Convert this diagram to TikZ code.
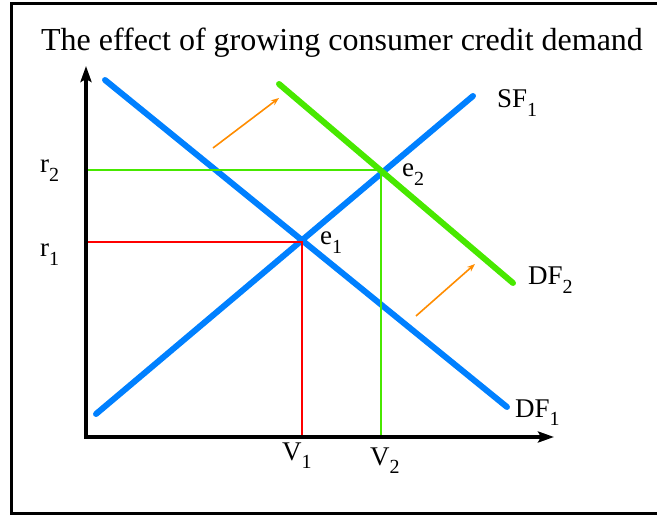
\documentclass[tikz,border=0pt]{standalone}
\usepackage{fontspec}
\setmainfont{Liberation Serif}
\usetikzlibrary{arrows.meta}
\definecolor{curveblue}{RGB}{0,128,255}
\definecolor{curvegreen}{RGB}{72,232,0}
\definecolor{shiftorange}{RGB}{255,140,0}
\newcommand{\lowsub}[1]{\raisebox{-0.33em}{\fontsize{20}{20}\selectfont #1}}

\begin{document}
\begin{tikzpicture}[
  x=1pt, y=-1pt,
  curve/.style={line width=6pt, line cap=round},
  axisline/.style={line width=4.5pt, {Stealth[length=16pt,width=11pt,inset=3pt]}-{Stealth[length=16pt,width=11pt,inset=3pt]}},
  guide/.style={line width=1.3pt},
  shiftarrow/.style={shiftorange, line width=1.6pt, -{Stealth[length=8pt,width=6pt]}},
  lbl/.style={font=\fontsize{27}{30}\selectfont, inner sep=0pt, anchor=base west},
]
\useasboundingbox (0,0) rectangle (657,516);
\draw[line width=3pt] (11,4) rectangle (680,513);

\node[font=\fontsize{32}{36}\selectfont, inner sep=0pt, anchor=base] (title) at (342,51)
  {The effect of growing consumer credit demand};

% axes
\coordinate (ytop)  at (86,66);
\coordinate (xend)  at (554,437);
\coordinate (r2tick) at (86,170);
\coordinate (r1tick) at (86,242);
\coordinate (v1tick) at (302,437);
\coordinate (v2tick) at (381,437);

% curves
\coordinate (df1a) at (105,80);
\coordinate (df1b) at (507,407);
\coordinate (sf1a) at (96,414);
\coordinate (sf1b) at (473,96);
\coordinate (df2a) at (279,84);
\coordinate (df2b) at (513,283);
\coordinate (e1) at (302,242);
\coordinate (e2) at (381,170);

\draw[curve, curveblue] (df1a) -- (df1b);
\draw[curve, curveblue] (sf1a) -- (sf1b);
\draw[curve, curvegreen] (df2a) -- (df2b);

\draw[guide, red] (r1tick) -- (e1) -- (v1tick);
\draw[guide, curvegreen] (r2tick) -- (e2) -- (v2tick);

\draw[axisline] (ytop) |- (xend);

% shift arrows
\coordinate (s1a) at (213,148);
\coordinate (s1b) at (279,98);
\coordinate (s2a) at (416,316);
\coordinate (s2b) at (475,264);
\draw[shiftarrow] (s1a) -- (s1b);
\draw[shiftarrow] (s2a) -- (s2b);

\node[lbl] (r2) at (40,173) {r\lowsub{2}};
\node[lbl] (r1) at (40,257) {r\lowsub{1}};
\node[lbl] (le1) at (320,245) {e\lowsub{1}};
\node[lbl] (le2) at (402,177) {e\lowsub{2}};
\node[lbl] (sf1) at (497,108) {SF\lowsub{1}};
\node[lbl] (df2) at (528,285) {DF\lowsub{2}};
\node[lbl] (df1) at (515,417) {DF\lowsub{1}};
\node[lbl] (v1) at (282,460) {V\lowsub{1}};
\node[lbl] (v2) at (370,465) {V\lowsub{2}};

\end{tikzpicture}
\end{document}
